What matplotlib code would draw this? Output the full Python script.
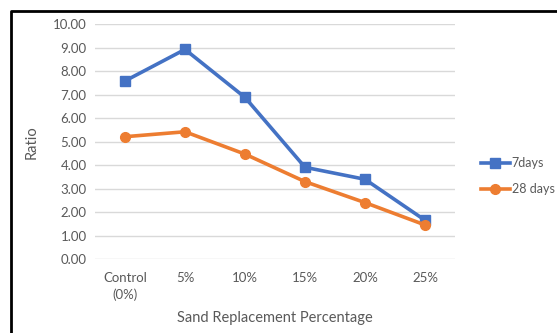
import matplotlib
matplotlib.use("Agg")
import matplotlib.pyplot as plt
from matplotlib.lines import Line2D

categories = ["Control\n(0%)", "5%", "10%", "15%", "20%", "25%"]
days7 = [7.58, 8.92, 6.88, 3.91, 3.40, 1.66]
days28 = [5.21, 5.42, 4.47, 3.30, 2.41, 1.46]
yticks = [0, 1, 2, 3, 4, 5, 6, 7, 8, 9, 10]

W, H = 557, 333
fig = plt.figure(figsize=(W / 100, H / 100), dpi=100)
plt.rcParams['font.family'] = ['Lato', 'DejaVu Sans']
grey = "#595959"

# plot area in pixels: x 95..455, y 24..259
ax = fig.add_axes([95 / W, 1 - 259.3 / H, 360 / W, (259.3 - 24) / H])
x = list(range(len(categories)))
ax.plot(x, days7, color="#4472C4", lw=2.6, marker="s", ms=7, label="7days")
ax.plot(x, days28, color="#ED7D31", lw=2.6, marker="o", ms=7, label="28 days")

ax.set_xlim(-0.5, len(categories) - 0.5)
ax.set_ylim(0, 10)
ax.set_yticks(yticks)
ax.set_yticklabels([f"{v:.2f}" for v in yticks], color=grey, fontsize=9.5)
ax.set_xticks(x)
ax.set_xticklabels(categories, color=grey, fontsize=9.5, linespacing=1.45)
ax.tick_params(length=0, pad=6)
ax.tick_params(axis="x", pad=9)
ax.grid(axis="y", color="#D9D9D9", lw=1)
ax.set_axisbelow(True)
for s in ax.spines.values():
    s.set_visible(False)

ax.set_ylabel("Ratio", color=grey, fontsize=10.5, labelpad=10)
fig.text(275 / W, 1 - 318 / H, "Sand Replacement Percentage", color=grey,
         fontsize=10.5, ha="center", va="center")

ax.legend(loc="center left", bbox_to_anchor=(476 / W, 1 - 176 / H),
          bbox_transform=fig.transFigure, frameon=False, fontsize=9,
          labelcolor=grey, handlelength=2.3, handletextpad=0.15,
          labelspacing=1.1, borderaxespad=0)

# outer chart frame
fig.add_artist(Line2D([10.5 / W, 10.5 / W, 1.0], [0.0, 1 - 10.5 / H, 1 - 10.5 / H],
                      transform=fig.transFigure, color="black", lw=2))

fig.savefig("out.png", dpi=100, facecolor="white")
